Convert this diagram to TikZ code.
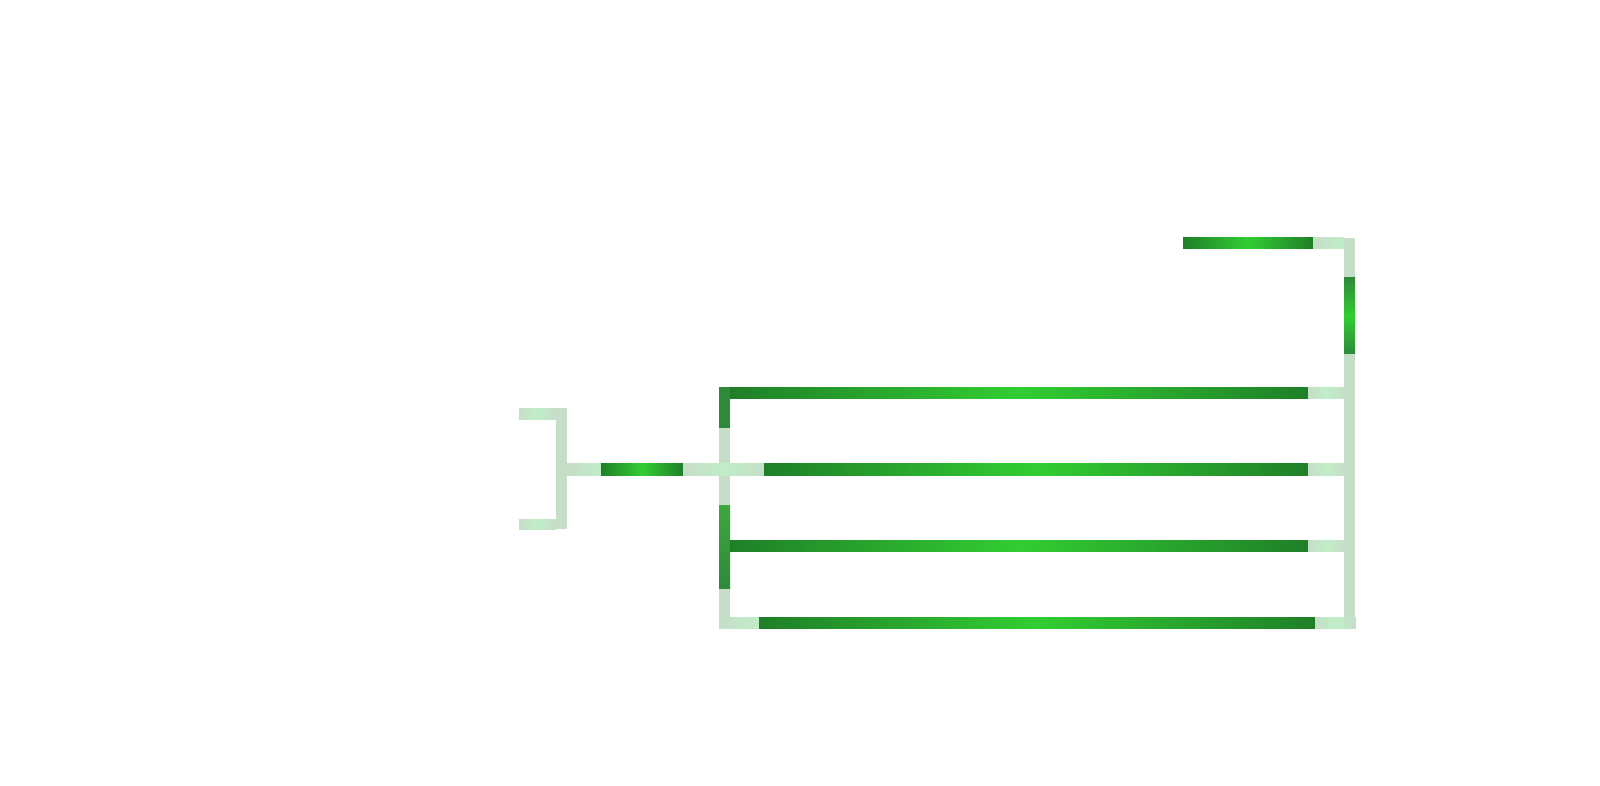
\documentclass[tikz,border=0pt]{standalone}
\usepackage{tikz}
\definecolor{pipedark}{HTML}{1F7F28}
\definecolor{pipelime}{HTML}{32CD32}
\definecolor{pipegrey}{HTML}{C6DDC8}
\definecolor{pipepale}{HTML}{C0EEC8}
\definecolor{pipemoss}{HTML}{2E8A3A}
\definecolor{pipeleaf}{HTML}{3DA83D}

\begin{document}
\begin{tikzpicture}[
  x=0.5pt, y=-0.5pt,
  hgreen/.style={left color=pipedark, right color=pipedark, middle color=pipelime},
  vgreen/.style={top color=pipemoss, bottom color=pipemoss, middle color=pipelime},
  hpale/.style={left color=pipegrey, right color=pipegrey, middle color=pipepale},
  vpale/.style={fill=pipegrey}
]
  \useasboundingbox (0,0) rectangle (1600,786);
  % inlet bracket
  \shade[hpale] (519,408) rectangle (556,419);
  \fill[vpale]  (556,408) rectangle (567,529);
  \shade[hpale] (519,519) rectangle (556,529);
  \shade[left color=pipegrey, right color=pipepale] (567,463) rectangle (601,475);
  \shade[hgreen] (601,463) rectangle (683,475);
  % left header
  \fill[pipemoss] (719,387) rectangle (730,428);
  \fill[vpale]    (719,428) rectangle (730,505);
  \shade[top color=pipeleaf, bottom color=pipemoss] (719,505) rectangle (730,589);
  \fill[vpale]    (719,589) rectangle (730,628);
  \shade[hpale] (683,463) rectangle (764,475);
  % right header
  \fill[vpale]   (1344,238) rectangle (1355,278);
  \shade[vgreen] (1344,278) rectangle (1355,354);
  \fill[vpale]   (1344,354) rectangle (1355,628);
  % outlet
  \shade[hgreen] (1183,238) rectangle (1313,249);
  \shade[left color=pipegrey, right color=pipepale] (1313,238) rectangle (1344,249);
  % tubes
  \shade[hgreen] (730,387) rectangle (1308,398);
  \shade[hpale]  (1308,387) rectangle (1344,398);
  \shade[hgreen] (764,463) rectangle (1308,475);
  \shade[hpale]  (1308,463) rectangle (1344,475);
  \shade[hgreen] (730,540) rectangle (1308,551);
  \shade[hpale]  (1308,540) rectangle (1344,551);
  \shade[left color=pipegrey, right color=pipepale] (719,617) rectangle (759,628);
  \shade[hgreen] (759,617) rectangle (1315,628);
  \shade[hpale]  (1315,617) rectangle (1356,628);
\end{tikzpicture}
\end{document}
